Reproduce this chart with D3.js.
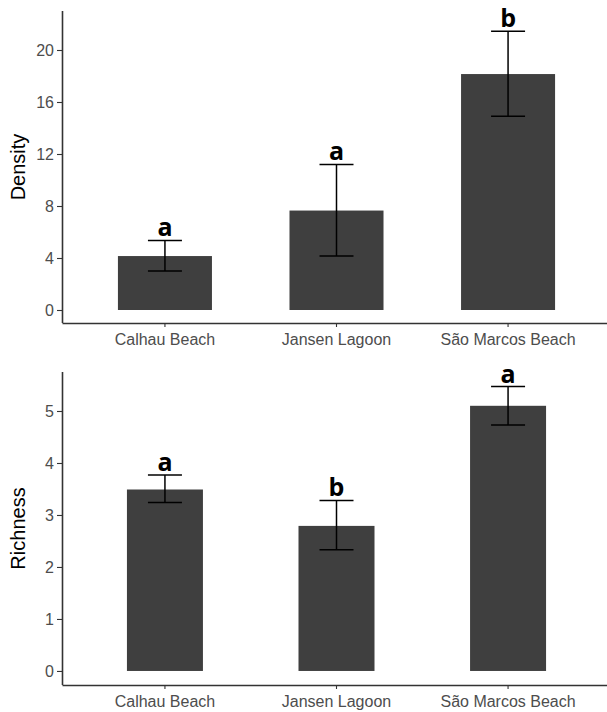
<!DOCTYPE html>
<html>
<head>
<meta charset="utf-8">
<script src="https://cdn.jsdelivr.net/npm/d3@7"></script>
<style>
  body { margin: 0; background: #fff; }
  svg { display: block; }
</style>
</head>
<body>
<div id="chart"></div>
<script>
// data
const sites = ["Calhau Beach", "Jansen Lagoon", "São Marcos Beach"]

const densityMean = [4.15, 7.65, 18.15]
const densityLow = [3.0, 4.15, 14.9]
const densityHigh = [5.35, 11.2, 21.45]
const densityLetters = ["a", "a", "b"]
const densityTicks = [0, 4, 8, 12, 16, 20]

const richnessMean = [3.49, 2.79, 5.1]
const richnessLow = [3.24, 2.33, 4.73]
const richnessHigh = [3.77, 3.28, 5.47]
const richnessLetters = ["a", "b", "a"]
const richnessTicks = [0, 1, 2, 3, 4, 5]

const width = 607, height = 712

const svg = d3.select("#chart").append("svg")
    .attr("width", width)
    .attr("height", height)

const left = 62, right = 611

function drawPanel(opts){
  const rows = sites.map((s, i) => ({
    site: s, mean: opts.mean[i], low: opts.low[i], high: opts.high[i], letter: opts.letters[i]
  }))

  // band scale: centres spaced like ggplot's discrete axis, bar width differs per panel
  const x = d3.scaleBand()
    .domain(sites)
    .range([left, right])
    .paddingInner(opts.padIn)
    .paddingOuter(opts.padOut)

  const y = d3.scaleLinear()
    .domain(opts.domain)
    .range([opts.bottom, opts.top])

  const g = svg.append("g")

  // bars
  g.selectAll("rect.bar")
    .data(rows)
    .join("rect")
      .attr("class", "bar")
      .attr("x", d => x(d.site))
      .attr("width", x.bandwidth())
      .attr("y", d => y(d.mean))
      .attr("height", d => y(0) - y(d.mean))
      .attr("fill", "#3f3f3f")

  const cap = 17
  const cx = d => x(d.site) + x.bandwidth() / 2

  // error bars
  g.selectAll("line.err")
    .data(rows)
    .join("line")
      .attr("class", "err")
      .attr("x1", cx).attr("x2", cx)
      .attr("y1", d => y(d.low)).attr("y2", d => y(d.high))
      .attr("stroke", "#000").attr("stroke-width", 1.5)
  g.selectAll("line.capHi")
    .data(rows)
    .join("line")
      .attr("class", "capHi")
      .attr("x1", d => cx(d) - cap).attr("x2", d => cx(d) + cap)
      .attr("y1", d => y(d.high)).attr("y2", d => y(d.high))
      .attr("stroke", "#000").attr("stroke-width", 1.5)
  g.selectAll("line.capLo")
    .data(rows)
    .join("line")
      .attr("class", "capLo")
      .attr("x1", d => cx(d) - cap).attr("x2", d => cx(d) + cap)
      .attr("y1", d => y(d.low)).attr("y2", d => y(d.low))
      .attr("stroke", "#000").attr("stroke-width", 1.5)

  // significance letters
  g.selectAll("text.letter")
    .data(rows)
    .join("text")
      .attr("class", "letter")
      .attr("x", cx)
      .attr("y", d => y(d.high) - 4)
      .attr("text-anchor", "middle")
      .style("font-family", "Open Sans, DejaVu Sans, sans-serif")
      .style("font-weight", "bold")
      .style("font-size", "25px")
      .attr("fill", "#000")
      .text(d => d.letter)

  // axes
  const yAxis = g.append("g")
    .attr("transform", `translate(${left},0)`)
    .call(d3.axisLeft(y).tickValues(opts.ticks).tickFormat(d3.format("d"))
      .tickSize(5).tickSizeOuter(0).tickPadding(3))
  const xAxis = g.append("g")
    .attr("transform", `translate(0,${opts.bottom})`)
    .call(d3.axisBottom(x).tickSize(4).tickSizeOuter(0).tickPadding(7))

  ;[yAxis, xAxis].forEach(a => {
    a.select(".domain").attr("stroke", "#333").attr("stroke-width", 1.6)
    a.selectAll(".tick line").attr("stroke", "#333").attr("stroke-width", 1.1)
    a.selectAll(".tick text")
      .attr("fill", "#4d4d4d")
      .style("font-family", "Liberation Sans, Arial, sans-serif")
      .style("font-size", "16px")
  })
  // ggplot axis lines meet at the corner
  yAxis.select(".domain").attr("d", `M0.5,${opts.top}V${opts.bottom}`)

  g.append("text")
    .attr("transform", `translate(25,${(opts.top + opts.bottom) / 2}) rotate(-90)`)
    .attr("text-anchor", "middle")
    .style("font-family", "Liberation Sans, Arial, sans-serif")
    .style("font-size", "20px")
    .attr("fill", "#000")
    .text(opts.title)
}

drawPanel({
  title: "Density",
  mean: densityMean, low: densityLow, high: densityHigh, letters: densityLetters,
  ticks: densityTicks,
  domain: [-1, 23], top: 11, bottom: 323,
  padIn: 0.452, padOut: 0.326
})

drawPanel({
  title: "Richness",
  mean: richnessMean, low: richnessLow, high: richnessHigh, letters: richnessLetters,
  ticks: richnessTicks,
  domain: [-0.27, 5.75], top: 372, bottom: 685,
  padIn: 0.557, padOut: 0.3785
})
</script>
</body>
</html>
